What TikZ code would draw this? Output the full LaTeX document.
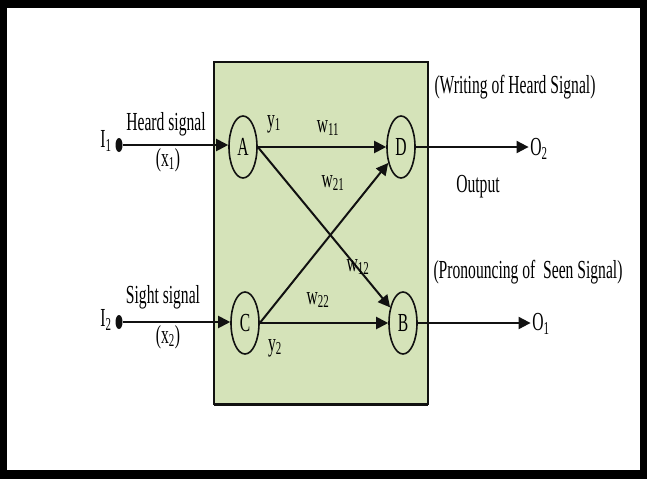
\documentclass[tikz,border=0pt]{standalone}
\usepackage{fontspec}
\setmainfont[FakeStretch=0.6]{Liberation Serif}
\usetikzlibrary{arrows.meta, shapes.geometric}
\definecolor{cpanel}{HTML}{D5E3B9}
\definecolor{cink}{HTML}{111111}
\tikzset{
  every picture/.style={line width=1.6pt},
  every node/.style={font=\fontsize{26}{30}\selectfont, inner sep=1pt},
  unit/.style={ellipse, draw=cink, minimum width=28pt, minimum height=62pt, inner sep=0pt},
  arrow/.style={-{Triangle[length=12pt, width=12pt]}, draw=cink, line width=2pt},
  dot/.style={ellipse, fill=cink, minimum width=7pt, minimum height=14pt, inner sep=0pt},
}

\begin{document}
\begin{tikzpicture}[x=1pt, y=-1pt]
  \useasboundingbox (0,0) rectangle (647,479);
  % frame and panel
  \fill[black] (0,0) rectangle (647,479);
  \fill[white] (7,8) rectangle (640,470);
  \draw[draw=cink, fill=cpanel, line width=1.5pt] (214,62) rectangle (428,404);
  \draw[draw=cink, line width=3pt] (214,404) -- (428,404);
  % units
  \node[unit] (A) at (243,147) {A};
  \node[unit] (D) at (401,147) {D};
  \node[unit] (C) at (245,323) {C};
  \node[unit] (B) at (403,323) {B};
  % inputs
  \node[dot] (i1) at (119,145) {};
  \node[dot] (i2) at (119,322) {};
  \node (I1) at (106,141) {I\textsubscript{1}};
  \node (I2) at (106,320) {I\textsubscript{2}};
  \draw[arrow] (i1) -- (A.west |- i1);
  \draw[arrow] (i2) -- (C.west |- i2);
  \node (heard) at (166,124) {Heard signal};
  \node (x1) at (168,160) {(x\textsubscript{1})};
  \node (sight) at (163,297) {Sight signal};
  \node (x2) at (168,337) {(x\textsubscript{2})};
  % weights
  \draw[arrow] (A.east) -- (D.west);
  \draw[arrow] (A.east) -- (B);
  \draw[arrow] (C.east) -- (D);
  \draw[arrow] (C.east) -- (B.west);
  \node (y1) at (274,124) {y\textsubscript{1}};
  \node (y2) at (275,348) {y\textsubscript{2}};
  \node (w11) at (328,128) {w\textsubscript{11}};
  \node (w21) at (333,183) {w\textsubscript{21}};
  \node (w12) at (358,267) {w\textsubscript{12}};
  \node (w22) at (318,300) {w\textsubscript{22}};
  % outputs
  \node (O2) at (539,149) {O\textsubscript{2}};
  \node (O1) at (541,324) {O\textsubscript{1}};
  \draw[arrow] (D.east) -- (O2.west |- D);
  \draw[arrow] (B.east) -- (O1.west |- B);
  \node (writing) at (515,87) {(Writing of Heard Signal)};
  \node (output) at (478,187) {Output};
  \node (pronounce) at (528,272) {(Pronouncing of\ \ Seen Signal)};
\end{tikzpicture}
\end{document}
